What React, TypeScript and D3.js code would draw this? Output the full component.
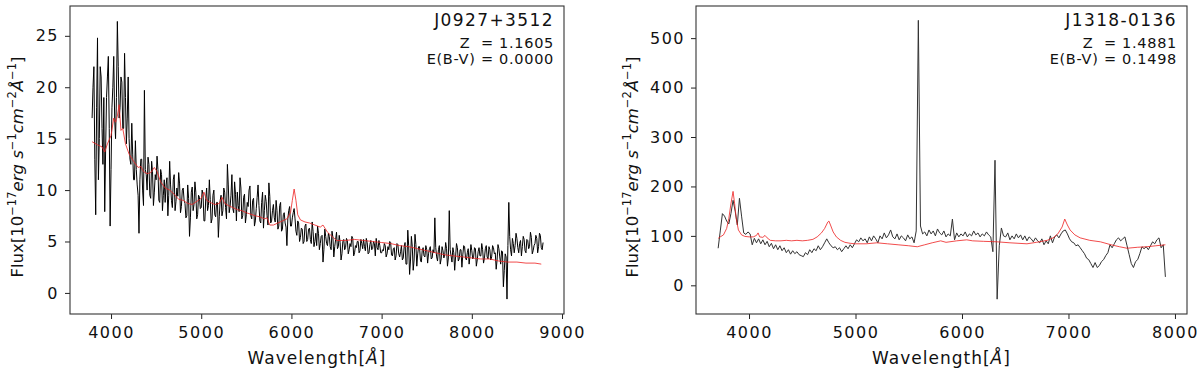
import { useRef, useEffect } from 'react';
import * as d3 from 'd3';

const FONT = '"DejaVu Sans", "Liberation Sans", sans-serif';

// J0927+3512 observed spectrum, sampled every 20 A from 3790 A
const A_START = 3790;
const A_STEP = 20;
const A_FLUX = [
  17, 22, 7.6, 24.8, 15, 21, 12.5, 7.9, 19, 23, 6.5,
  18, 23, 15, 26.4, 17, 21, 16, 23.3, 14.5, 21,
  13, 16.5, 11, 14.8, 10.5, 5.8, 13, 10, 19.7, 11.5,
  13.2, 9.5, 12.8, 8.5, 11.5, 13.3, 9, 12, 8, 11,
  10.5, 7.5, 12.8, 9, 11, 8, 10.2, 11.7, 7.8, 10,
  9, 7.3, 10.5, 5.5, 9.8, 8, 10.8, 7.2, 9.5, 8.2,
  10, 7, 9.2, 8, 11, 6.8, 9.5, 7.6, 8.8, 5.4,
  9, 7.5, 10.2, 8.3, 12.5, 7.8, 9.5, 8.2, 10.8, 7,
  8.5, 11.2, 7.2, 9.3, 6.8, 8.8, 10, 7.5, 9, 6.5,
  8.2, 10.5, 7, 8.8, 6.3, 9.5, 7.5, 10.7, 6.8, 8,
  7.3, 9, 6.2, 8.5, 6, 7.6, 6.8, 4.6, 8, 6.5,
  7.3, 8.2, 6, 7, 5, 6.3, 4.8, 6.5, 5, 6.2,
  5.2, 6.9, 4.5, 5.8, 6.5, 4.2, 5.5, 3, 6.2, 4.8,
  5.8, 4.5, 6, 3.5, 5.2, 4.3, 5.6, 3.2, 5, 4.2,
  5.3, 3.8, 4.8, 5.5, 3.6, 4.6, 5, 3.9, 5.2, 4.3,
  4.5, 5.3, 3.8, 4.7, 4.2, 5, 3.6, 4.4, 5.1, 3.9,
  4.2, 4.8, 3.5, 4.5, 5, 3.7, 4.3, 3.2, 4.8, 3.8,
  4, 3.2, 4.5, 2.8, 6.1, 1.8, 5.5, 2.2, 5.7, 2.6,
  4.5, 3.2, 4.1, 3.6, 4.6, 2.9, 4.3, 3.3, 4.2, 7.3,
  3.5, 4.2, 2.8, 4.5, 3.4, 4.9, 2.6, 8, 3.6, 4.4,
  2.2, 4.8, 3.1, 4.2, 2.5, 4.6, 3.4, 3.9, 2.8, 4.7,
  3.3, 4.4, 2.6, 4, 3.6, 4.8, 2.9, 4.3, 3.5, 4.5,
  3.2, 4.6, 3.8, 2.3, 4.7, 3.5, 4.1, 0.6, 3.8, -0.6,
  8.8, 4.2, 5.3, 3.9, 5.8, 4.4, 4.8, 3.6, 5.5, 4.1,
  5.2, 4.3, 5.9, 3.8, 4.6, 5.6, 3.9, 5.8, 4.4, 4.9,
];
// the pixels in between: every 20 A from 3800 A
const A_MID_START = 3800;
const A_FLUX_MID = [
  20, 13, 18, 11, 22, 16, 19, 14, 21, 16,
  12, 20, 17, 19, 22, 18, 20.5, 16, 19, 17,
  15, 12.5, 13.5, 11, 12, 9.5, 11, 13, 8.5, 12,
  10, 12.5, 9.2, 11.8, 9.8, 11, 12, 8.8, 11.5, 9.5,
  8.8, 11.2, 9.5, 10.5, 8.3, 11.5, 8.9, 9.4, 10.6, 8.4,
  10.2, 8.7, 7.5, 9.2, 7.3, 10.3, 8.6, 9.8, 7.6, 9.3,
  8.3, 9.6, 7, 10.2, 8.5, 9.1, 7.2, 10, 7.4, 8.8,
  7.4, 9.5, 8, 9.8, 7.2, 10.5, 8.4, 11.5, 7.8, 9.6,
  9.8, 7.9, 10.2, 7.5, 9.6, 7.6, 8.4, 10.4, 7.2, 9.2,
  7, 9.3, 8.5, 6.8, 9.8, 8, 8.9, 6.6, 9.4, 7,
  8.6, 6.9, 8, 6.5, 8.8, 6.2, 7.8, 6.4, 7.2, 8.4,
  6.5, 7.8, 7.2, 5.6, 6.8, 5.4, 6.2, 5, 6.7, 5.2,
  6.3, 4.8, 6, 5, 4.6, 5.8, 4.8, 5.6, 4.2, 5.5,
  4.6, 5.5, 4.2, 5.4, 4.5, 5.9, 4.5, 4.9, 3.8, 5.2,
  4.4, 5.1, 4.2, 4.5, 5.3, 3.9, 4.4, 5, 4.1, 4.8,
  5.2, 4.1, 4.9, 3.9, 5.1, 4.3, 4.8, 5.3, 4.2, 4.6,
  3.9, 4.1, 4.6, 3.8, 4.2, 4.9, 3.6, 4.4, 3.6, 4.7,
  3.5, 4.6, 3.4, 4.9, 2.8, 4.6, 3.1, 4.5, 3.2, 4.7,
  3.8, 4.5, 3, 4.4, 3.5, 4.2, 3.8, 4.5, 3.4, 3.9,
  4.4, 3.1, 4.6, 3.3, 4.1, 3.7, 4.3, 3.4, 4.2, 3,
  3.9, 3.5, 4.4, 3.3, 4.2, 3.7, 4.5, 3.2, 4.3, 3.6,
  4.1, 3.5, 4.3, 3.2, 4.4, 3.6, 4.2, 3.4, 4.6, 3.3,
  4.2, 3.5, 4.4, 3.9, 3.2, 4.3, 2.8, 4, 2.2, 3.5,
  4.6, 5.5, 3.6, 4.8, 4.6, 5.3, 3.9, 5.1, 4.5, 5.2,
  3.9, 5.1, 4.5, 5.4, 4.1, 4.8, 5.3, 4.5, 5.6, 4.2,
];

// J0927+3512 model [wavelength, flux]
const A_MODEL: [number, number][] = [
  [3790, 14.7], [3850, 14.4], [3900, 14.2], [3930, 13.7], [3960, 14.5], [4000, 15.3],
  [4030, 17], [4050, 16.6], [4070, 17.2], [4090, 18.3], [4110, 15.8], [4130, 16],
  [4160, 14.5], [4200, 13.5], [4250, 12.8], [4300, 12.2], [4330, 12.3], [4360, 11.8],
  [4400, 11.6], [4440, 11.7], [4480, 12.2], [4510, 11.8], [4550, 10.8], [4600, 10.2],
  [4650, 10.0], [4700, 9.6], [4750, 9.1], [4800, 9.0], [4850, 8.7], [4900, 8.6],
  [4950, 8.9], [5000, 9.2], [5030, 9.8], [5060, 9.0], [5100, 8.8], [5150, 8.6],
  [5200, 8.7], [5230, 9.3], [5260, 8.7], [5300, 8.5], [5350, 8.3], [5400, 8.1],
  [5450, 8.0], [5500, 7.8], [5600, 7.5], [5650, 7.4], [5700, 7.2], [5730, 7.3],
  [5760, 6.6], [5800, 6.6], [5850, 6.8], [5900, 7.0], [5950, 7.2], [5990, 7.8],
  [6010, 9.0], [6030, 10.1], [6050, 9.0], [6070, 7.6], [6100, 7.1], [6150, 6.9],
  [6200, 6.8], [6260, 6.6], [6320, 6.4], [6350, 6.6], [6400, 5.9], [6450, 5.5],
  [6500, 5.1], [6600, 5.1], [6700, 5.2], [6800, 5.1], [6900, 5.0], [7000, 4.9],
  [7100, 4.8], [7200, 4.6], [7300, 4.5], [7400, 4.3], [7500, 4.1], [7600, 3.9],
  [7700, 3.7], [7800, 3.6], [7900, 3.5], [8000, 3.4], [8100, 3.3], [8200, 3.3],
  [8300, 3.1], [8400, 3.0], [8500, 3.0], [8600, 2.9], [8700, 2.9], [8770, 2.8],
];

// J1318-0136 observed spectrum, sampled every 20 A from 3710 A
const B_START = 3710;
const B_STEP = 20;
const B_FLUX = [
  75, 110, 145, 140, 130, 124, 145, 172, 150, 122,
  176, 140, 106, 103, 108, 104, 82, 95, 86, 94,
  84, 92, 82, 89, 78, 85, 74, 82, 72, 80,
  70, 76, 66, 72, 63, 70, 64, 68, 62, 60,
  58, 66, 62, 72, 66, 74, 70, 80, 72, 78,
  86, 94, 86, 80, 76, 78, 72, 76, 68, 74,
  80, 74, 82, 76, 84, 92, 88, 96, 90, 94,
  86, 98, 90, 100, 94, 86, 100, 94, 106, 96,
  102, 112, 98, 94, 104, 92, 100, 96, 90, 102,
  94, 98, 86, 110, 536, 120, 104, 108, 100, 112,
  104, 110, 100, 114, 106, 102, 110, 98, 104, 100,
  134, 92, 106, 98, 104, 100, 108, 98, 104, 100,
  110, 102, 106, 98, 104, 100, 108, 102, 98, 68,
  253, -28, 80, 116, 100, 98, 106, 92, 100, 94,
  104, 96, 102, 92, 100, 90, 98, 94, 88, 96,
  90, 86, 94, 82, 90, 84, 100, 86, 98, 102,
  96, 104, 110, 112, 104, 94, 88, 86, 80, 82,
  76, 70, 64, 55, 52, 44, 36, 46, 36, 40,
  48, 52, 60, 66, 82, 76, 84, 92, 96, 90,
  94, 98, 80, 62, 44, 36, 48, 52, 64, 78,
  74, 78, 72, 80, 88, 84, 92, 96, 76, 82,
  17,
];

// J1318-0136 model [wavelength, flux]
const B_MODEL: [number, number][] = [
  [3710, 95], [3730, 98], [3760, 102], [3790, 115], [3810, 135], [3830, 165],
  [3850, 190], [3865, 165], [3880, 135], [3900, 112], [3930, 102], [3960, 99],
  [4000, 98], [4040, 98], [4070, 101], [4085, 106], [4100, 98], [4130, 97],
  [4150, 101], [4170, 96], [4200, 91], [4250, 90], [4300, 90], [4350, 91],
  [4400, 90], [4450, 91], [4500, 90], [4550, 91], [4600, 93], [4640, 98],
  [4680, 106], [4710, 115], [4740, 128], [4750, 130], [4765, 122], [4790, 108],
  [4820, 98], [4860, 91], [4900, 87], [4950, 85], [5000, 84], [5100, 84],
  [5200, 86], [5300, 84], [5400, 82], [5500, 80], [5580, 78], [5650, 82],
  [5720, 86], [5800, 90], [5850, 87], [5950, 90], [6045, 92], [6100, 90],
  [6200, 89], [6330, 88], [6450, 86], [6610, 84], [6700, 87], [6800, 91],
  [6855, 96], [6900, 104], [6940, 118], [6965, 134], [6990, 122], [7015, 112],
  [7060, 102], [7110, 96], [7200, 91], [7300, 88], [7400, 82], [7480, 78],
  [7550, 75], [7650, 77], [7735, 78], [7820, 80], [7910, 82],
];

const A_XTICKS = [4000, 5000, 6000, 7000, 8000, 9000];
const A_YTICKS = [0, 5, 10, 15, 20, 25];
const B_XTICKS = [4000, 5000, 6000, 7000, 8000];
const B_YTICKS = [0, 100, 200, 300, 400, 500];

const toPairs = (flux: number[], start: number, step: number): [number, number][] =>
  flux.map((f, i) => [start + i * step, f]);

const PANELS = [
  {
    box: { left: 70, right: 564, top: 6, bottom: 314 },
    xDomain: [3545, 9022], yDomain: [-2.05, 27.9],
    xTicks: A_XTICKS, yTicks: A_YTICKS,
    obs: [...toPairs(A_FLUX, A_START, A_STEP), ...toPairs(A_FLUX_MID, A_MID_START, A_STEP)]
      .sort((a, b) => a[0] - b[0]),
    model: A_MODEL,
    obsColor: '#000', obsWidth: 1,
    name: 'J0927+3512', z: 'Z  = 1.1605', ebv: 'E(B-V) = 0.0000',
    labelX: 23,
  },
  {
    box: { left: 696, right: 1187, top: 6, bottom: 314 },
    xDomain: [3502, 8113], yDomain: [-58, 565],
    xTicks: B_XTICKS, yTicks: B_YTICKS,
    obs: toPairs(B_FLUX, B_START, B_STEP),
    model: B_MODEL,
    obsColor: '#333', obsWidth: 1,
    name: 'J1318-0136', z: 'Z  = 1.4881', ebv: 'E(B-V) = 0.1498',
    labelX: 638,
  },
];

export default function App() {
  const svgRef = useRef<SVGSVGElement>(null);

  useEffect(() => {
    const svg = d3.select(svgRef.current);
    svg.selectAll('*').remove();

    PANELS.forEach(p => {
      const { left, right, top, bottom } = p.box;
      const x = d3.scaleLinear().domain(p.xDomain).range([left, right]);
      const y = d3.scaleLinear().domain(p.yDomain).range([bottom, top]);
      const g = svg.append('g');

      const clipId = `clip-${left}`;
      svg.append('defs').append('clipPath').attr('id', clipId)
        .append('rect').attr('x', left).attr('y', top)
        .attr('width', right - left).attr('height', bottom - top);

      const line = d3.line<[number, number]>().x(d => x(d[0])).y(d => y(d[1]));

      g.append('path').datum(p.obs)
        .attr('clip-path', `url(#${clipId})`)
        .attr('d', line).attr('fill', 'none')
        .attr('stroke', p.obsColor).attr('stroke-width', p.obsWidth)
        .attr('stroke-linejoin', 'round');

      g.append('path').datum(p.model)
        .attr('clip-path', `url(#${clipId})`)
        .attr('d', line).attr('fill', 'none')
        .attr('stroke', '#ee2222').attr('stroke-opacity', 0.9)
        .attr('stroke-width', 0.9).attr('stroke-linejoin', 'round');

      // axes
      const xAxis = g.append('g').attr('transform', `translate(0,${bottom})`)
        .call(d3.axisBottom(x).tickValues(p.xTicks).tickSize(5).tickPadding(8).tickFormat(d3.format('d')));
      const yAxis = g.append('g').attr('transform', `translate(${left},0)`)
        .call(d3.axisLeft(y).tickValues(p.yTicks).tickSize(5).tickPadding(6).tickFormat(d3.format('d')));
      [xAxis, yAxis].forEach(a => {
        a.select('.domain').remove();
        a.selectAll('line').attr('stroke', '#222').attr('stroke-width', 1);
        a.selectAll('text')
          .attr('fill', '#111')
          .style('font-family', FONT).style('font-size', '16px')
          .style('letter-spacing', '1.5px');
      });

      // frame
      g.append('rect')
        .attr('x', left).attr('y', top)
        .attr('width', right - left).attr('height', bottom - top)
        .attr('fill', 'none').attr('stroke', '#333').attr('stroke-width', 1.1);

      // annotation
      const ax = right - 10;
      g.append('text').attr('x', ax).attr('y', 26).attr('text-anchor', 'end')
        .attr('fill', '#111').style('font-family', FONT).style('font-size', '17px')
        .style('letter-spacing', '1.4px').text(p.name);
      g.append('text').attr('x', ax).attr('y', 48).attr('text-anchor', 'end')
        .attr('fill', '#111').attr('xml:space', 'preserve').style('white-space', 'pre')
        .style('font-family', FONT).style('font-size', '14.5px')
        .style('letter-spacing', '0.7px').text(p.z);
      g.append('text').attr('x', ax).attr('y', 64).attr('text-anchor', 'end')
        .attr('fill', '#111').style('font-family', FONT).style('font-size', '14.5px')
        .style('letter-spacing', '0.7px').text(p.ebv);

      // x label
      const xl = g.append('text').attr('x', (left + right) / 2).attr('y', 364)
        .attr('text-anchor', 'middle').attr('fill', '#111')
        .style('font-family', FONT).style('font-size', '17px').style('letter-spacing', '1px');
      xl.append('tspan').text('Wavelength[');
      xl.append('tspan').style('font-style', 'italic').text('Å');
      xl.append('tspan').text(']');

      // y label
      const yl = g.append('text')
        .attr('transform', `translate(${p.labelX},167) rotate(-90)`)
        .attr('text-anchor', 'middle').attr('fill', '#111')
        .style('font-family', FONT).style('font-size', '16.5px');
      const parts: [string, string][] = [
        ['Flux[10', 'n'], ['−17', 's'], ['erg s', 'i'], ['−1', 's'],
        ['cm', 'i'], ['−2', 's'], ['Å', 'i'], ['−1', 's'], [']', 'n'],
      ];
      let raised = false;
      parts.forEach(([t, k]) => {
        const ts = yl.append('tspan').text(t);
        if (k === 's') {
          ts.attr('dy', raised ? 0 : -7).style('font-size', '11.5px');
          raised = true;
        } else {
          if (raised) ts.attr('dy', 7);
          raised = false;
          if (k === 'i') ts.style('font-style', 'italic');
        }
      });
    });
  }, []);

  return (
    <svg ref={svgRef} width={1200} height={375}
      style={{ position: 'absolute', left: 0, top: 0, background: '#fff' }} />
  );
}
